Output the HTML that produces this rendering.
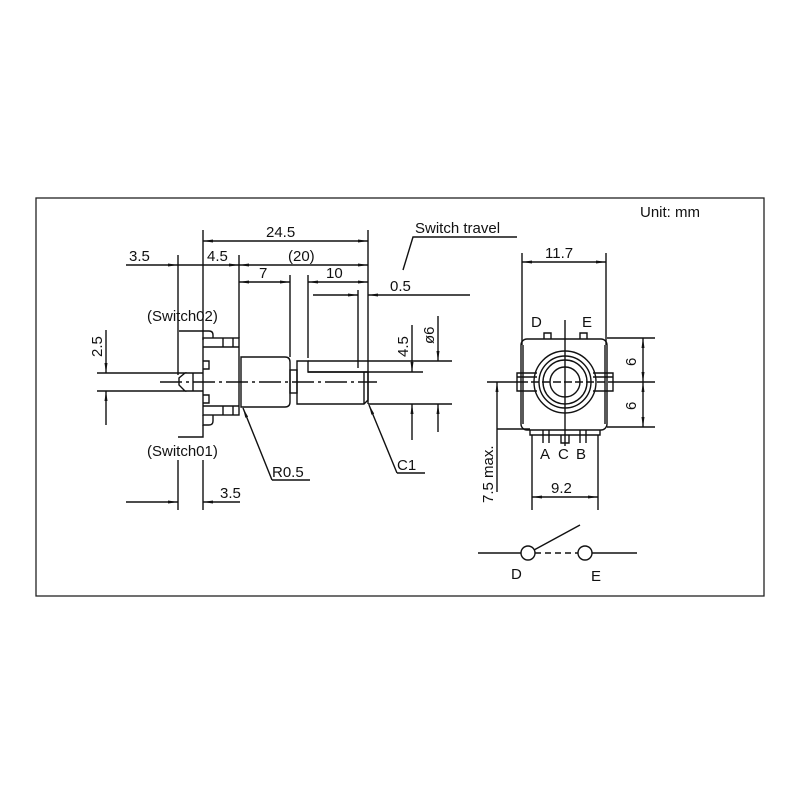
<!DOCTYPE html>
<html><head><meta charset="utf-8"><style>
html,body{margin:0;padding:0;background:#fff;}
svg{display:block;}
text{font-family:"Liberation Sans",Arial,sans-serif;font-size:15px;fill:#111;}
</style></head><body>
<svg width="800" height="800" viewBox="0 0 800 800" xmlns="http://www.w3.org/2000/svg">
<defs>
<marker id="a" viewBox="0 0 10 6" refX="10" refY="3" markerWidth="10" markerHeight="6" orient="auto-start-reverse" markerUnits="userSpaceOnUse"><path d="M0,1.5 L10,3 L0,4.5 Z" fill="#111"/></marker>
</defs>
<rect x="36" y="198" width="728" height="398" fill="none" stroke="#222" stroke-width="1.3"/>
<text x="640" y="217">Unit: mm</text>
<g stroke="#111" stroke-width="1.4" fill="none">
<line x1="203" y1="230" x2="203" y2="340"/>
<line x1="368" y1="230" x2="368" y2="404"/>
<line x1="178" y1="255" x2="178" y2="375"/>
<line x1="239" y1="255" x2="239" y2="338"/>
<line x1="290" y1="275" x2="290" y2="357"/>
<line x1="308" y1="275" x2="308" y2="358"/>
<line x1="358" y1="290" x2="358" y2="368"/>
<line x1="203" y1="241" x2="368" y2="241" marker-start="url(#a)" marker-end="url(#a)"/>
<line x1="126" y1="265" x2="178" y2="265" marker-end="url(#a)"/>
<line x1="178" y1="265" x2="203" y2="265"/>
<line x1="203" y1="265" x2="239" y2="265" marker-end="url(#a)"/>
<line x1="239" y1="265" x2="368" y2="265" marker-start="url(#a)" marker-end="url(#a)"/>
<line x1="239" y1="282" x2="290" y2="282" marker-start="url(#a)" marker-end="url(#a)"/>
<line x1="308" y1="282" x2="368" y2="282" marker-start="url(#a)" marker-end="url(#a)"/>
<line x1="313" y1="295" x2="358" y2="295" marker-end="url(#a)"/>
<line x1="368" y1="295" x2="470" y2="295" marker-start="url(#a)"/>
<polyline points="403,270 413,237 517,237"/>
<rect x="203" y="338" width="36" height="77"/>
<line x1="203" y1="347" x2="239" y2="347"/>
<line x1="203" y1="406" x2="239" y2="406"/>
<line x1="223" y1="338" x2="223" y2="347"/><line x1="233" y1="338" x2="233" y2="347"/>
<line x1="223" y1="406" x2="223" y2="415"/><line x1="233" y1="406" x2="233" y2="415"/>
<path d="M203,361 h6 v8 h-6"/><path d="M203,395 h6 v8 h-6"/>
<path d="M179,331 h30 q4,0 4,4 v3"/>
<path d="M203,415 v10 h6 q4,0 4,-4 v-6"/>
<path d="M178,437 h25 v-12"/>
<path d="M178,373 h7 l-6,5 v7 l6,6 h-7"/>
<path d="M185,373 h18 M185,391 h18"/>
<line x1="193" y1="373" x2="193" y2="391"/>
<path d="M241,357 h44 q5,0 5,5 v40 q0,5 -5,5 h-44 z"/>
<rect x="290" y="370" width="7" height="23"/>
<path d="M297,361 h11 v11 h60 v28 l-4,4 h-67 z"/>
<line x1="308" y1="361" x2="452" y2="361"/>
<line x1="368" y1="404" x2="452" y2="404"/>
<line x1="308" y1="372" x2="423" y2="372"/>
<line x1="364" y1="372" x2="364" y2="404"/>
<line x1="160" y1="382" x2="377" y2="382" stroke-dasharray="22,4,3,4"/>
<line x1="97" y1="373" x2="178" y2="373"/>
<line x1="97" y1="391" x2="178" y2="391"/>
<line x1="106" y1="330" x2="106" y2="373" marker-end="url(#a)"/>
<line x1="106" y1="425" x2="106" y2="391" marker-end="url(#a)"/>
<line x1="412" y1="325" x2="412" y2="372" marker-end="url(#a)"/>
<line x1="412" y1="440" x2="412" y2="404" marker-end="url(#a)"/>
<line x1="438" y1="316" x2="438" y2="361" marker-end="url(#a)"/>
<line x1="438" y1="432" x2="438" y2="404" marker-end="url(#a)"/>
<polyline points="272,480 310,480"/><line x1="272" y1="480" x2="243" y2="408" marker-end="url(#a)"/>
<polyline points="397,473 425,473"/><line x1="397" y1="473" x2="369" y2="405" marker-end="url(#a)"/>
<line x1="178" y1="460" x2="178" y2="510"/>
<line x1="203" y1="460" x2="203" y2="510"/>
<line x1="126" y1="502" x2="178" y2="502" marker-end="url(#a)"/>
<line x1="240" y1="502" x2="203" y2="502" marker-end="url(#a)"/>

<line x1="522" y1="253" x2="522" y2="345"/>
<line x1="606" y1="253" x2="606" y2="345"/>
<line x1="522" y1="262" x2="606" y2="262" marker-start="url(#a)" marker-end="url(#a)"/>
<rect x="521" y="339" width="86" height="91" rx="6"/>
<line x1="523" y1="345" x2="523" y2="424"/><line x1="605" y1="345" x2="605" y2="424"/>
<circle cx="565" cy="382" r="31"/>
<circle cx="565" cy="382" r="26"/>
<circle cx="565" cy="382" r="22"/>
<circle cx="565" cy="382" r="15"/>
<path d="M537,373 h-20 v18 h20 M593,373 h20 v18 h-20"/>
<line x1="517" y1="377" x2="537" y2="377"/><line x1="593" y1="377" x2="613" y2="377"/>
<line x1="565" y1="320" x2="565" y2="446"/>
<line x1="487" y1="382" x2="520" y2="382"/>
<line x1="520" y1="382" x2="612" y2="382" stroke-dasharray="8,3"/>
<path d="M544,339 v-6 h7 v6 M580,339 v-6 h7 v6"/>
<path d="M530,430 v5 h70 v-5"/>
<path d="M543,430 v13 M549,430 v13 M561,435 v8 h8 v-8 M580,430 v13 M586,430 v13"/>
<line x1="607" y1="338" x2="655" y2="338"/>
<line x1="612" y1="382" x2="655" y2="382"/>
<line x1="607" y1="427" x2="655" y2="427"/>
<line x1="643" y1="338" x2="643" y2="382" marker-start="url(#a)" marker-end="url(#a)"/>
<line x1="643" y1="382" x2="643" y2="427" marker-start="url(#a)" marker-end="url(#a)"/>
<line x1="497" y1="429" x2="530" y2="429"/>
<line x1="497" y1="492" x2="497" y2="382" marker-end="url(#a)"/>
<line x1="532" y1="435" x2="532" y2="510"/>
<line x1="598" y1="435" x2="598" y2="510"/>
<line x1="532" y1="497" x2="598" y2="497" marker-start="url(#a)" marker-end="url(#a)"/>
<line x1="478" y1="553" x2="521" y2="553"/>
<line x1="592" y1="553" x2="637" y2="553"/>
<line x1="535" y1="553" x2="578" y2="553" stroke-dasharray="6,4"/>
<circle cx="528" cy="553" r="7"/>
<circle cx="585" cy="553" r="7"/>
<line x1="534" y1="550" x2="580" y2="525"/>
</g>
<text x="129" y="261">3.5</text>
<text x="207" y="261">4.5</text>
<text x="266" y="237">24.5</text>
<text x="288" y="261">(20)</text>
<text x="259" y="278">7</text>
<text x="326" y="278">10</text>
<text x="390" y="291">0.5</text>
<text x="415" y="233">Switch travel</text>
<text x="147" y="321">(Switch02)</text>
<text x="147" y="456">(Switch01)</text>
<text x="272" y="477">R0.5</text>
<text x="397" y="470">C1</text>
<text x="220" y="498">3.5</text>
<text transform="translate(102,357) rotate(-90)">2.5</text>
<text transform="translate(408,357) rotate(-90)">4.5</text>
<text transform="translate(434,344) rotate(-90)">ø6</text>
<text x="545" y="258">11.7</text>
<text x="531" y="327">D</text>
<text x="582" y="327">E</text>
<text transform="translate(636,366) rotate(-90)">6</text>
<text transform="translate(636,410) rotate(-90)">6</text>
<text transform="translate(493,503) rotate(-90)">7.5 max.</text>
<text x="540" y="459">A</text>
<text x="558" y="459">C</text>
<text x="576" y="459">B</text>
<text x="551" y="493">9.2</text>
<text x="511" y="579">D</text>
<text x="591" y="581">E</text>
</svg>
</body></html>
